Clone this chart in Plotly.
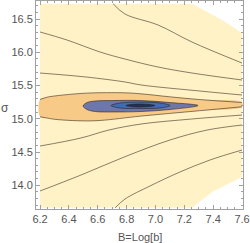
import plotly.graph_objects as go

# ---- data (B = Log[b], sigma) ----
# region where the function is defined (white corners outside)
region_B = [6.2, 6.2, 7.253, 7.461, 7.6, 7.6, 7.392, 7.253]
region_s = [13.66, 16.73, 16.73, 16.485, 16.29, 14.124, 13.899, 13.66]

# open contour lines (pale-yellow zone)
lineA_B = [6.706, 6.789, 7.018, 7.253, 7.6]
lineA_s = [16.73, 16.575, 16.41, 16.154, 15.838]
lineB_B = [6.2, 6.387, 6.616, 6.789, 7.018, 7.253, 7.6]
lineB_s = [16.305, 16.184, 16.004, 15.898, 15.778, 15.688, 15.583]
lineC_B = [6.2, 6.519, 6.789, 6.9, 7.309, 7.6]
lineC_s = [15.688, 15.628, 15.553, 15.508, 15.417, 15.357]
lineD_B = [6.2, 6.484, 6.678, 6.9, 7.25, 7.6]
lineD_s = [14.59, 14.711, 14.831, 14.921, 14.996, 15.056]
lineE_B = [6.2, 6.484, 6.789, 7.1, 7.357, 7.6]
lineE_s = [13.914, 14.154, 14.43, 14.68, 14.83, 14.906]
lineF_B = [6.72, 6.789, 6.962, 7.17, 7.378, 7.6]
lineF_s = [13.66, 13.793, 13.989, 14.2, 14.38, 14.53]

# orange band (top edge left->right, bottom edge right->left)
orangeTop_B = [6.2, 6.25, 6.31, 6.52, 6.79, 6.9, 7.1, 7.3, 7.6]
orangeTop_s = [15.29, 15.325, 15.345, 15.385, 15.39, 15.375, 15.33, 15.29, 15.245]
orangeBot_B = [7.6, 7.3, 6.9, 6.62, 6.5, 6.31, 6.25, 6.2]
orangeBot_s = [15.18, 15.12, 15.04, 14.975, 14.968, 14.99, 15.01, 15.03]

# closed inner contours
slate_B = [6.498, 6.526, 6.581, 6.706, 6.9, 7.101, 7.295, 7.101, 6.9, 6.706, 6.581, 6.526, 6.498]
slate_s = [15.192, 15.244, 15.267, 15.274, 15.274, 15.244, 15.199, 15.139, 15.109, 15.102, 15.109, 15.139, 15.192]
blue_B = [6.692, 6.754, 6.9, 7.032, 7.101, 7.032, 6.9, 6.754, 6.692]
blue_s = [15.199, 15.237, 15.252, 15.237, 15.199, 15.162, 15.154, 15.162, 15.199]
core_B = [6.796, 6.838, 6.9, 6.962, 6.997, 6.962, 6.9, 6.838, 6.796]
core_s = [15.199, 15.217, 15.222, 15.214, 15.199, 15.184, 15.177, 15.181, 15.199]

x_ticks = [6.2, 6.4, 6.6, 6.8, 7.0, 7.2, 7.4, 7.6]
y_ticks = [14.0, 14.5, 15.0, 15.5, 16.0, 16.5]

PALE = "#FFF2C6"
ORANGE = "#F8CA88"
SLATE = "#6D77AC"
BLUE = "#3E6DB4"
CORE = "#1E3262"
LINE = "rgba(40,30,20,0.55)"

fig = go.Figure()

def poly(xs, ys, color, line_w=0, shape="linear"):
    fig.add_trace(go.Scatter(x=xs, y=ys, mode="lines", fill="toself",
                             fillcolor=color,
                             line=dict(color=LINE if line_w else color, width=line_w, shape=shape, smoothing=1.0),
                             hoverinfo="skip", showlegend=False))

def cline(xs, ys):
    fig.add_trace(go.Scatter(x=xs, y=ys, mode="lines",
                             line=dict(color=LINE, width=1, shape="spline", smoothing=1.0),
                             hoverinfo="skip", showlegend=False))

poly(region_B + [region_B[0]], region_s + [region_s[0]], PALE)
poly(orangeTop_B + orangeBot_B + [orangeTop_B[0]], orangeTop_s + orangeBot_s + [orangeTop_s[0]], ORANGE, shape="spline")
cline(orangeTop_B, orangeTop_s)
cline(orangeBot_B, orangeBot_s)
poly(slate_B, slate_s, SLATE, line_w=1, shape="spline")
poly(blue_B, blue_s, BLUE, line_w=1, shape="spline")
poly(core_B, core_s, CORE, line_w=1, shape="spline")
for xs, ys in [(lineA_B, lineA_s), (lineB_B, lineB_s), (lineC_B, lineC_s),
               (lineD_B, lineD_s), (lineE_B, lineE_s), (lineF_B, lineF_s)]:
    cline(xs, ys)

axis_common = dict(showgrid=False, zeroline=False, showline=True, linecolor="#A0A0A0",
                   linewidth=1, mirror="allticks", ticks="inside", ticklen=4,
                   tickcolor="#A0A0A0", tickfont=dict(family="Liberation Sans, Arial", size=11, color="#555555"))

fig.update_layout(
    width=250, height=243,
    margin=dict(l=36, r=7, t=1, b=34),
    plot_bgcolor="white", paper_bgcolor="white",
    xaxis=dict(range=[6.172, 7.6065], tickvals=x_ticks, ticktext=[f"{v:.1f}" for v in x_ticks],
               minor=dict(ticks="inside", dtick=0.05, tick0=6.2, ticklen=2, tickcolor="#A0A0A0"),
               **axis_common),
    yaxis=dict(range=[13.643, 16.771], tickvals=y_ticks, ticktext=[f"{v:.1f}" for v in y_ticks],
               minor=dict(ticks="inside", dtick=0.1, tick0=14.0, ticklen=2, tickcolor="#A0A0A0"),
               **axis_common),
    annotations=[
        dict(text="B=Log[b]", xref="paper", yref="paper", x=0.5, y=-0.135, xanchor="center",
             yanchor="middle", showarrow=False,
             font=dict(family="Liberation Sans, Arial", size=11, color="#555555")),
        dict(text="σ", xref="paper", yref="paper", x=-0.15, y=0.486, xanchor="center",
             yanchor="middle", showarrow=False,
             font=dict(family="Liberation Sans, Arial", size=12, color="#555555")),
    ],
)

fig.write_html("out.html", config={"displayModeBar": False},
               post_script="document.body.style.margin='0';document.body.style.overflow='hidden';")
